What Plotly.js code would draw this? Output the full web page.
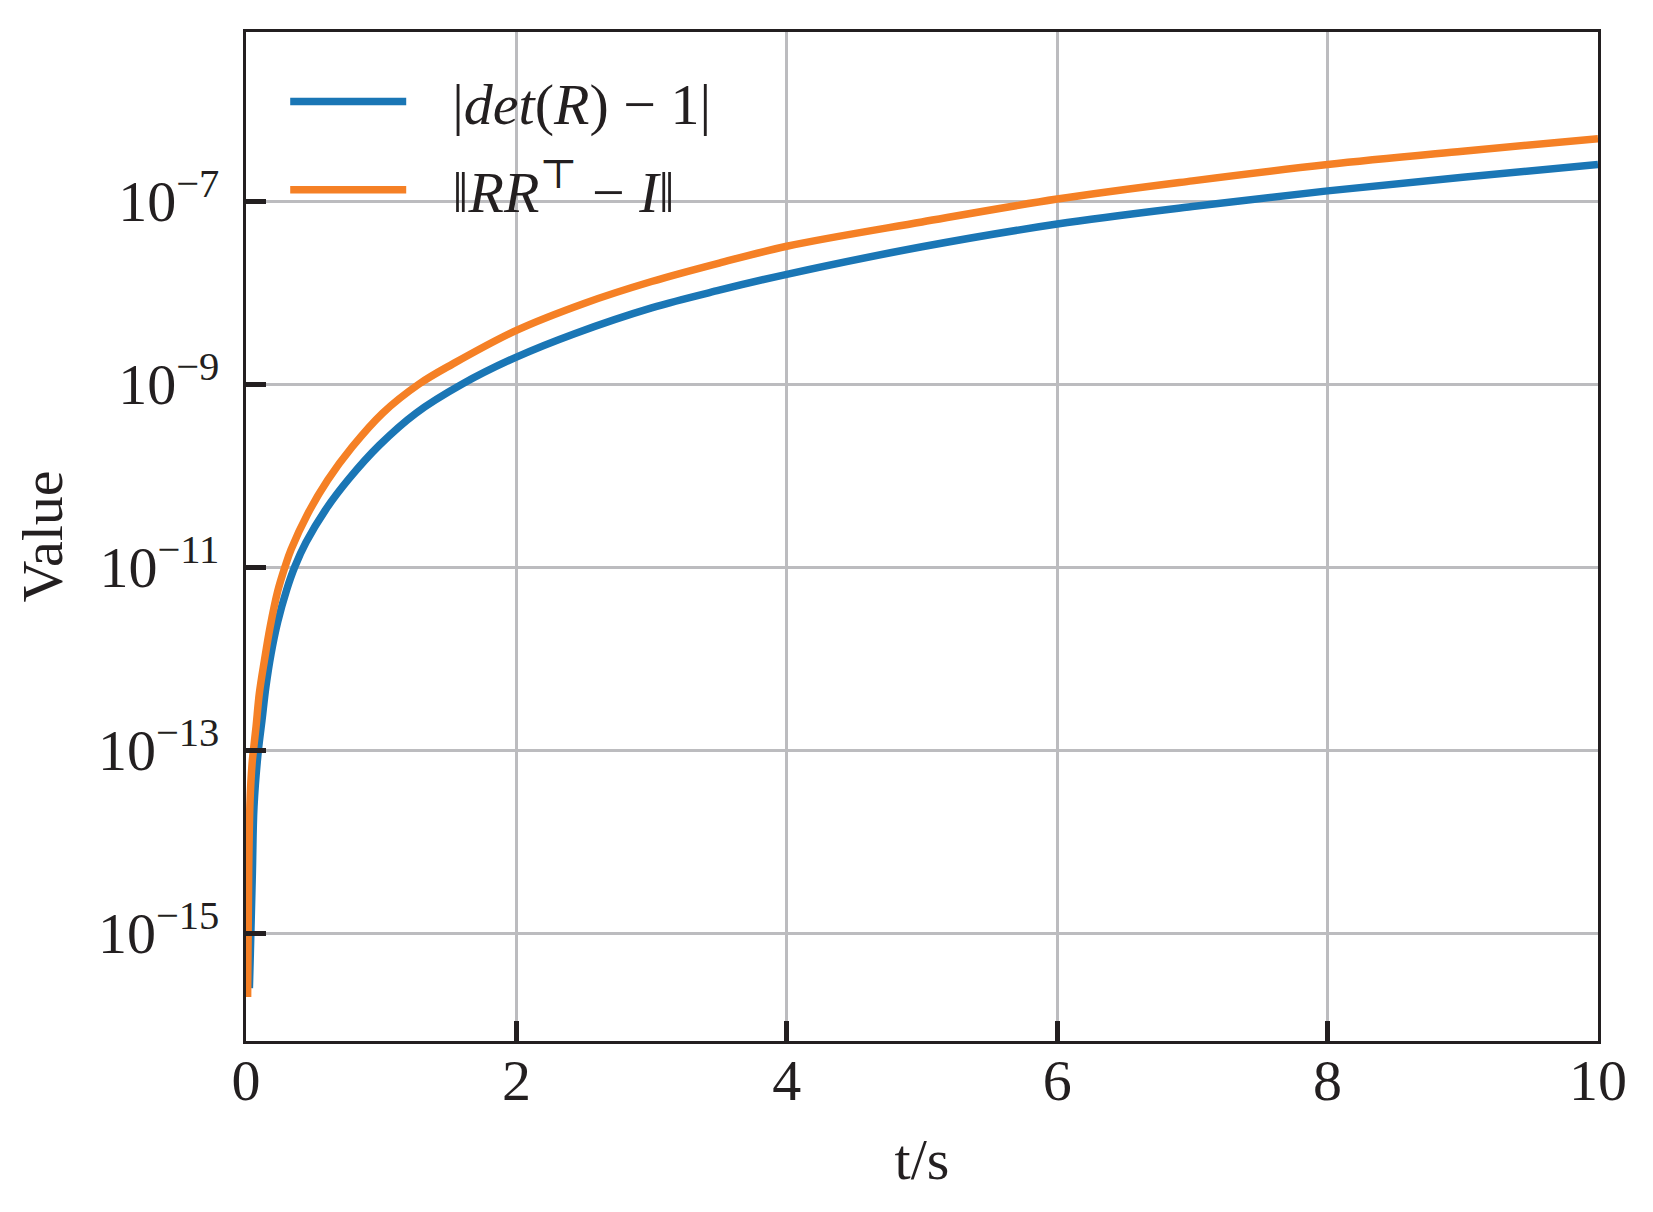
<!DOCTYPE html>
<html>
<head>
<meta charset="utf-8">
<script src="https://cdn.plot.ly/plotly-3.0.1.min.js"></script>
<style>
  html, body { margin: 0; padding: 0; background: #ffffff; }
  #chart { width: 1653px; height: 1212px; }
</style>
</head>
<body>
<div id="chart"></div>
<script>
// ---- data ----
const seriesNames = ["|<i>det</i>(<i>R</i>) − 1|", "‖<i>RR</i><sup>⊤</sup> − <i>I</i>‖"];

const tDet = [0.025, 0.032, 0.047, 0.059, 0.09, 0.118, 0.148, 0.185, 0.234, 0.30, 0.36, 0.444, 0.592, 0.764, 0.986, 1.257, 1.6, 2.0, 2.43, 3.0, 3.5, 4.0, 5.0, 6.0, 7.0, 8.0, 9.0, 10.0];
const detErr = [2.5e-16, 6.0e-16, 4.5e-15, 2.4e-14, 9.5e-14, 2.1e-13, 5.0e-13, 1.12e-12, 2.5e-12, 5.6e-12, 1.0e-11, 1.86e-11, 4.3e-11, 9.3e-11, 2.14e-10, 4.8e-10, 1.0e-9, 1.97e-9, 3.55e-9, 6.8e-9, 1.06e-8, 1.58e-8, 3.16e-8, 5.6e-8, 8.7e-8, 1.29e-7, 1.82e-7, 2.51e-7];

const tOrth = [0.012, 0.02, 0.03, 0.045, 0.055, 0.074, 0.099, 0.136, 0.178, 0.234, 0.288, 0.333, 0.456, 0.604, 0.784, 1.01, 1.28, 1.53, 2.0, 2.5, 3.0, 3.5, 4.0, 5.0, 6.0, 7.0, 8.0, 9.0, 10.0];
const orthErr = [2.0e-16, 5.0e-15, 2.8e-14, 7.1e-14, 1.0e-13, 1.78e-13, 4.2e-13, 9.5e-13, 2.2e-12, 5.4e-12, 1.0e-11, 1.55e-11, 3.8e-11, 8.9e-11, 2.04e-10, 4.8e-10, 1.0e-9, 1.66e-9, 3.86e-9, 7.6e-9, 1.32e-8, 2.1e-8, 3.2e-8, 5.9e-8, 1.05e-7, 1.66e-7, 2.5e-7, 3.5e-7, 4.8e-7];

const xTickVals = [0, 2, 4, 6, 8, 10];
const yTickVals = [1e-15, 1e-13, 1e-11, 1e-9, 1e-7];
const yTickText = ["10<sup>−15</sup>", "10<sup>−13</sup>", "10<sup>−11</sup>", "10<sup>−9</sup>", "10<sup>−7</sup>"];

// ---- styling ----
const FONT = '"Liberation Serif", "DejaVu Serif", serif';
const INK = '#231f20';
const GRID = '#bcbcbf';
const BLUE = '#1a76b5';
const ORANGE = '#f58025';

const traces = [
  { x: tDet, y: detErr, type: 'scatter', mode: 'lines', name: seriesNames[0],
    legendgroup: 'a', line: { color: BLUE, width: 7.5, shape: 'spline', smoothing: 1.0 } },
  { x: tOrth, y: orthErr, type: 'scatter', mode: 'lines', name: seriesNames[1],
    legendgroup: 'b', line: { color: ORANGE, width: 7.5, shape: 'spline', smoothing: 1.0 } }
];

const layout = {
  width: 1653, height: 1212,
  margin: { l: 246, r: 55, t: 32, b: 171, pad: 0 },
  paper_bgcolor: '#ffffff', plot_bgcolor: '#ffffff',
  font: { family: FONT, size: 58, color: INK },
  showlegend: true,
  legend: {
    x: 0.029, y: 0.975, xanchor: 'left', yanchor: 'top',
    bgcolor: 'rgba(0,0,0,0)', borderwidth: 0,
    font: { family: FONT, size: 58, color: INK },
    itemwidth: 157, tracegroupgap: 10
  },
  xaxis: {
    range: [0, 10], tickvals: xTickVals,
    showline: true, linecolor: INK, linewidth: 3, mirror: true,
    ticks: 'inside', ticklen: 20, tickwidth: 5, tickcolor: INK,
    showgrid: true, gridcolor: GRID, gridwidth: 3,
    zeroline: false, ticklabelstandoff: -14,
    tickfont: { family: FONT, size: 58, color: INK },
    title: { text: 't/s', font: { family: FONT, size: 58, color: INK }, standoff: 27 },
    automargin: false
  },
  yaxis: {
    type: 'log', range: [-16.18, -5.153],
    tickvals: yTickVals, ticktext: yTickText,
    showline: true, linecolor: INK, linewidth: 3, mirror: true,
    ticks: 'inside', ticklen: 20, tickwidth: 5, tickcolor: INK,
    showgrid: true, gridcolor: GRID, gridwidth: 3,
    zeroline: false, ticklabelstandoff: 12,
    tickfont: { family: FONT, size: 58, color: INK },
    title: { text: 'Value', font: { family: FONT, size: 58, color: INK }, standoff: 17 },
    automargin: false
  }
};

Plotly.newPlot('chart', traces, layout, { displayModeBar: false, staticPlot: true }).then(function () {
  // lengthen the legend line samples to match the reference
  document.querySelectorAll('.legend .traces').forEach(function (g) {
    const txt = g.querySelector('.legendtext');
    const path = g.querySelector('.legendlines path');
    if (txt && path) {
      const tx = parseFloat(txt.getAttribute('x')) || 0;
      path.setAttribute('d', 'M5,0h' + Math.max(30, tx - 51));
    }
  });
});
</script>
</body>
</html>
